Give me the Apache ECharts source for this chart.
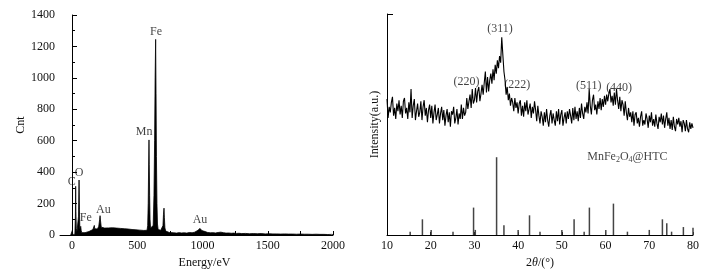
<!DOCTYPE html>
<html><head><meta charset="utf-8">
<script src="https://cdn.jsdelivr.net/npm/echarts@6/dist/echarts.min.js"></script>
<style>html,body{margin:0;padding:0;background:#fff}#c{width:716px;height:276px}</style>
</head><body><div id="c"></div>
<script>
// ---- EDS spectrum (left) ----
var edsEnergy = [-10,0,3,6,15,22,26,28,30,33,38,45,50,54,57,60,64,67,70,75,85,100,115,130,145,160,168,171,174,185,195,205,212,215,218,224,235,250,265,280,295,310,325,340,355,370,385,400,415,430,445,460,475,490,505,520,535,550,565,575,580,584,587,590,592,595,598,602,608,615,622,628,633,637,641,644,647,651,655,660,670,680,690,697,701,705,708,712,718,730,745,760,780,800,820,840,860,880,900,920,940,955,965,975,981,987,995,1005,1020,1040,1060,1080,1100,1120,1140,1150,1160,1180,1200,1220,1240,1260,1280,1300,1330,1360,1390,1420,1450,1480,1510,1540,1570,1600,1630,1660,1690,1720,1750,1780,1810,1840,1870,1900,1930,1960,1990,2000];
var edsCounts = [0,0,30,0,0,5,120,310,150,40,20,30,120,350,160,40,30,55,30,15,12,15,18,22,28,35,45,61,40,35,38,55,100,123,95,50,42,44,40,45,42,46,41,44,40,42,38,40,36,38,34,35,32,33,30,31,28,29,27,30,60,200,420,605,450,250,100,45,35,35,60,250,600,1000,1245,900,500,200,70,35,30,30,35,60,130,171,110,45,25,18,16,12,14,12,15,13,14,12,16,14,18,22,30,38,42,35,28,20,22,16,14,15,13,16,18,22,15,12,13,11,12,10,11,9,10,8,9,8,9,7,8,7,7,6,7,6,6,5,6,5,5,4,5,4,4,3,4,3];
var edsXTicks = [0,250,500,750,1000,1250,1500,1750,2000];
var edsXLabels = [0,500,1000,1500,2000];
var edsLabelText = ['Fe','Mn','C','O','Fe','Au','Au'];
var edsLabelX = [644,552,-2,54,105,240,981];
var edsLabelY = [1294,658,341,396,110,161,97];

// ---- XRD pattern (right) ----
var xrdStart = 10, xrdStep = 0.25;
var xrdValues = [
61.5,53.0,58.0,55.5, 60.0,62.5,54.0,57.5, 52.5,59.5,56.0,61.0, 54.5,58.5,53.0,60.5, 62.0,55.0,57.5,52.5,
60.0,55.5,66.0,53.0, 58.5,61.5,52.0,56.0, 59.5,53.5,55.5,60.5, 52.0,58.0,61.0,54.0, 57.5,51.0,56.5,59.0,
53.0,58.5,50.5,55.5, 59.0,52.0,54.5,57.5, 50.5,55.0,58.0,52.0, 56.5,49.5,54.0,57.0, 51.0,55.5,49.0,56.0,
54.5,58.0,50.5,53.0, 57.0,50.0,55.0,52.5, 59.0,52.5,57.5,54.0, 55.5,62.0,57.0,60.5, 63.5,57.5,66.0,59.5,
61.0,66.5,60.0,65.0, 67.0,60.5,64.0,68.0, 63.5,69.0,74.0,64.5, 71.5,65.0,70.0,73.0, 68.5,75.0,70.0,77.0,
73.0,79.0,75.5,81.0, 78.0,89.5,81.5,74.0, 70.0,63.5,67.0,61.0, 64.0,58.5,62.0,60.0, 56.0,62.0,57.5,60.0,
55.0,59.5,61.0,54.0, 58.5,53.5,60.0,56.0, 61.0,54.5,57.0,59.5, 53.0,58.0,55.0,60.5, 56.5,51.5,58.5,54.0,
50.5,56.0,53.5,49.5, 55.5,51.0,57.0,52.0, 49.0,54.0,56.5,50.5, 55.0,52.0,49.5,56.0, 51.5,57.0,50.0,54.5,
56.5,49.5,53.0,55.5, 50.5,56.0,52.5,57.0, 54.0,50.5,57.5,52.0, 58.0,52.5,56.0,51.5, 57.5,53.0,59.5,55.0,
52.5,58.0,55.5,60.0, 55.0,66.0,58.5,54.5, 61.0,63.5,56.5,59.0, 54.5,60.5,57.0,62.0, 56.5,61.5,58.0,63.0,
59.0,63.5,60.5,64.0, 66.0,60.0,63.0,58.5, 64.5,59.0,66.0,61.0, 57.0,62.5,56.0,61.0, 59.0,54.0,60.5,55.5,
52.0,57.5,53.5,55.5, 51.0,56.0,49.5,54.5, 55.5,50.5,53.0,49.0, 53.5,56.0,49.5,52.0, 50.0,55.0,52.5,48.5,
54.0,51.0,55.5,49.5, 52.5,49.0,54.5,50.5, 48.0,53.5,51.0,55.0, 50.0,54.0,48.5,52.5, 55.5,49.5,53.0,48.0,
52.0,47.5,53.5,49.0, 47.0,52.5,50.0,53.0, 49.0,51.5,46.5,52.0, 50.5,47.0,52.0,48.0, 46.5,51.0,48.0,50.5,
48.5];
var stickAngle = [15.3,18.1,20.1,25.1,29.8,30.2,35.07,36.75,40.0,42.6,45.0,50.0,52.8,55.1,56.3,60.05,61.8,65.0,70.0,73.0,74.0,75.1,77.8,80.0];
var stickHeight = [1.5,7.1,2.3,1.5,12.4,2.3,35.2,4.4,2.3,8.9,1.5,2.3,7.1,1.5,12.4,2.3,14.2,1.5,2.3,7.1,5.3,1.5,3.6,3.3];
var xrdLabelText = ['(311)','(220)','(222)','(511)','(440)'];
var xrdLabelX = [35.83,28.2,39.8,56.16,63.1];
var xrdLabelY = [93.1,69.4,67.9,67.4,66.4];
var sampleName = 'MnFe{s|2}O{s|4}@HTC';
var sampleX = 65.0, sampleY = 35.3;

var FONT = 'Liberation Serif';
var TXT = '#111';
function plain(v){ return String(v); }

var edsData = edsEnergy.map(function(e,i){return [e, edsCounts[i]];});
var xrdData = xrdValues.map(function(v,i){return [xrdStart + i*xrdStep, v];});
var stickData = stickAngle.map(function(a,i){return [a, stickHeight[i]];});
var edsLbl = edsLabelText.map(function(t,i){return {name:t, value:[edsLabelX[i], edsLabelY[i]]};});
var xrdLbl = xrdLabelText.map(function(t,i){return {name:t, value:[xrdLabelX[i], xrdLabelY[i]]};});

var axisLineStyle = {lineStyle:{color:'#000', width:1}};
var option = {
  animation:false,
  backgroundColor:'#fff',
  textStyle:{fontFamily:FONT, color:TXT},
  grid:[
    {left:60, right:383, top:15, bottom:41},
    {left:387, right:23, top:14, bottom:41}
  ],
  xAxis:[
    {gridIndex:0, type:'value', min:-92, max:2000,
     axisLine:axisLineStyle, splitLine:{show:false},
     axisTick:{inside:true, length:4, customValues:edsXTicks, lineStyle:{color:'#000'}},
     axisLabel:{customValues:edsXLabels, formatter:plain, fontFamily:FONT, fontSize:12, color:TXT, margin:5},
     name:'Energy/eV', nameLocation:'middle', nameGap:21,
     nameTextStyle:{fontFamily:FONT, fontSize:12, color:TXT, padding:[0,0,0,16]}},
    {gridIndex:1, type:'value', min:10, max:80, interval:10,
     axisLine:axisLineStyle, splitLine:{show:false},
     axisTick:{inside:true, length:3, lineStyle:{color:'#000'}},
     axisLabel:{formatter:plain, fontFamily:FONT, fontSize:12, color:TXT, margin:5},
     name:'2{i|θ}/(°)', nameLocation:'middle', nameGap:22,
     nameTextStyle:{fontFamily:FONT, fontSize:12, color:TXT,
       rich:{i:{fontStyle:'italic', fontFamily:FONT, fontSize:12, color:TXT}}}}
  ],
  yAxis:[
    {gridIndex:0, type:'value', min:0, max:1400, interval:200,
     axisLine:{show:true, lineStyle:{color:'#000', width:1}}, splitLine:{show:false},
     axisTick:{inside:true, length:5, lineStyle:{color:'#000'}},
     minorTick:{show:true, splitNumber:2, length:3, lineStyle:{color:'#000'}},
     axisLabel:{formatter:plain, fontFamily:FONT, fontSize:12, color:TXT, margin:5},
     name:'Cnt', nameLocation:'middle', nameGap:33,
     nameTextStyle:{fontFamily:FONT, fontSize:12, color:TXT}},
    {gridIndex:1, type:'value', min:0, max:100, interval:100,
     axisLine:{show:true, lineStyle:{color:'#000', width:1}}, splitLine:{show:false},
     axisTick:{inside:true, length:6, lineStyle:{color:'#000'}},
     axisLabel:{show:false},
     name:'Intensity(a.u.)', nameLocation:'middle', nameGap:6,
     nameTextStyle:{fontFamily:FONT, fontSize:12, color:TXT}}
  ],
  series:[
    {type:'line', xAxisIndex:0, yAxisIndex:0, data:edsData, showSymbol:false, symbol:'none',
     lineStyle:{color:'#000', width:0.8}, areaStyle:{color:'#000', opacity:1}},
    {type:'scatter', xAxisIndex:0, yAxisIndex:0, data:edsLbl, symbolSize:0,
     label:{show:true, position:'inside', formatter:'{b}', fontFamily:FONT, fontSize:12, color:TXT}},
    {type:'line', xAxisIndex:1, yAxisIndex:1, data:xrdData, showSymbol:false, symbol:'none',
     lineStyle:{color:'#000', width:1.1}},
    {type:'bar', xAxisIndex:1, yAxisIndex:1, data:stickData, barWidth:1.5,
     itemStyle:{color:'#444'}},
    {type:'scatter', xAxisIndex:1, yAxisIndex:1, data:xrdLbl, symbolSize:0,
     label:{show:true, position:'inside', formatter:'{b}', fontFamily:FONT, fontSize:12, color:TXT}},
    {type:'scatter', xAxisIndex:1, yAxisIndex:1, data:[{name:sampleName, value:[sampleX, sampleY]}], symbolSize:0,
     label:{show:true, position:'inside', formatter:'{b}', fontFamily:FONT, fontSize:12, color:TXT,
       rich:{s:{fontFamily:FONT, fontSize:8, color:TXT, padding:[6,0,0,0]}}}}
  ]
};
var chart = echarts.init(document.getElementById('c'), null, {renderer:'canvas'});
chart.setOption(option);
</script></body></html>
